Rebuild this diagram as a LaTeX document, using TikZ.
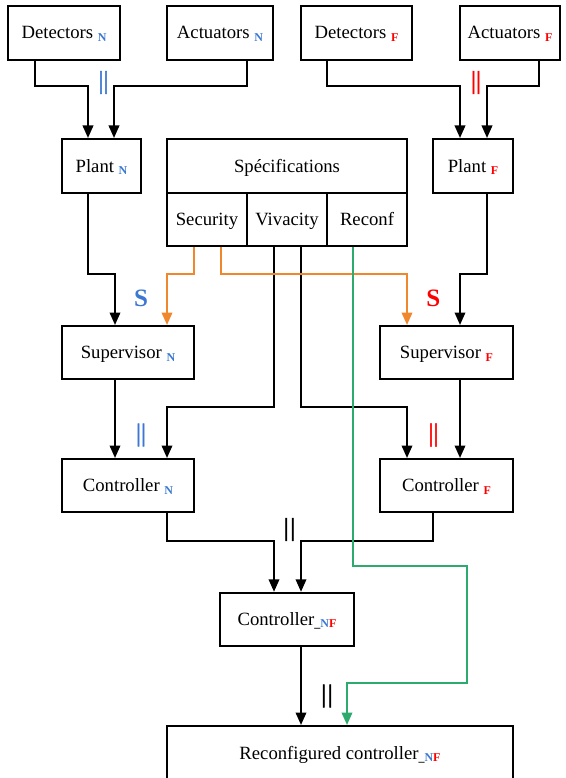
\documentclass[tikz,border=0pt]{standalone}
\usepackage{fontspec}
\setmainfont{Liberation Serif}
\usetikzlibrary{arrows.meta}
\definecolor{cblue}{RGB}{60,120,210}
\definecolor{cred}{RGB}{255,0,0}
\definecolor{corange}{RGB}{240,135,45}
\definecolor{cgreen}{RGB}{45,170,110}
\newcommand{\subN}{\raisebox{-2.5pt}{\fontsize{12}{13}\selectfont\bfseries\color{cblue}N}}
\newcommand{\subF}{\raisebox{-2.5pt}{\fontsize{12}{13}\selectfont\bfseries\color{cred}F}}
\newcommand{\subNF}{\raisebox{-2.5pt}{\fontsize{12}{13}\selectfont\bfseries\_\textcolor{cblue}{N}\textcolor{cred}{F}}}
\begin{document}
\begin{tikzpicture}[x=1pt,y=-1pt,
  box/.style={draw, line width=2pt, minimum height=54pt, text height=12pt, text depth=0pt, inner sep=0pt, font=\fontsize{18.7}{22}\selectfont},
  conn/.style={line width=2pt, -{Triangle[length=12.5pt,width=10.5pt]}},
  bars/.style={inner sep=0pt, font=\fontsize{25}{25}\selectfont\addfontfeature{FakeBold=1.5}},
  slabel/.style={inner sep=0pt, font=\fontsize{25}{25}\selectfont\bfseries}]
\useasboundingbox (0,0) rectangle (565,778);
% top row
\node[box, minimum width=112pt] (detN) at (64,33) {Detectors \subN};
\node[box, minimum width=106pt] (actN) at (220,33) {Actuators \subN};
\node[box, minimum width=111pt] (detF) at (356.5,33) {Detectors \subF};
\node[box, minimum width=100pt] (actF) at (510,33) {Actuators \subF};
% plants and specifications
\node[box, minimum width=79pt] (plantN) at (101.5,166) {Plant \subN};
\node[box, minimum width=80pt] (plantF) at (473,166) {Plant \subF};
\node[box, minimum width=240pt] (spec) at (287,166) {Spécifications};
\node[box, minimum width=80pt, minimum height=53pt] (sec) at (207,219.5) {Security};
\node[box, minimum width=80pt, minimum height=53pt] (viv) at (287,219.5) {Vivacity};
\node[box, minimum width=80pt, minimum height=53pt] (rec) at (367,219.5) {Reconf};
% supervisors
\node[box, minimum width=132pt, minimum height=53pt] (supN) at (128,352.5) {Supervisor \subN};
\node[box, minimum width=133pt, minimum height=53pt] (supF) at (446.5,352.5) {Supervisor \subF};
% controllers
\node[box, minimum width=132pt, minimum height=53pt] (ctlN) at (128,485.5) {Controller \subN};
\node[box, minimum width=133pt, minimum height=53pt] (ctlF) at (446.5,485.5) {Controller \subF};
\node[box, minimum width=134pt, minimum height=53pt] (ctlNF) at (287,619.3) {Controller\subNF};
\node[box, minimum width=346pt, minimum height=54pt] (rcf) at (340,753) {Reconfigured controller\subNF};
% labels
\node[bars, text=cblue] (parN1) at (103.5,82.5) {||};
\node[bars, text=cred] (parF1) at (476,82.5) {||};
\node[slabel, text=cblue] (sN) at (141,298) {S};
\node[slabel, text=cred] (sF) at (433.3,298) {S};
\node[bars, text=cblue] (parN2) at (141,435) {||};
\node[bars, text=cred] (parF2) at (433.5,435) {||};
\node[bars] (par3) at (289.5,529.5) {|\kern1.5pt|};
\node[bars] (par4) at (327,696) {|\kern1.5pt|};
% black connectors
\draw[conn] ([xshift=-29pt]detN.south) -- ++(0,25) -| ([xshift=-13.5pt]plantN.north);
\draw[conn] ([xshift=27pt]actN.south) -- ++(0,25) -| ([xshift=12.5pt]plantN.north);
\draw[conn] ([xshift=-29.5pt]detF.south) -- ++(0,25) -| ([xshift=-13pt]plantF.north);
\draw[conn] ([xshift=29pt]actF.south) -- ++(0,25) -| ([xshift=14pt]plantF.north);
\draw[conn] ([xshift=-13.5pt]plantN.south) -- ++(0,80) -| ([xshift=-13pt]supN.north);
\draw[conn] ([xshift=14pt]plantF.south) -- ++(0,80) -| ([xshift=13.5pt]supF.north);
\draw[conn] ([xshift=-13pt]viv.south) -- ++(0,160) -| ([xshift=39pt]ctlN.north);
\draw[conn] ([xshift=14pt]viv.south) -- ++(0,160) -| ([xshift=-39.5pt]ctlF.north);
\draw[conn] ([xshift=-13pt]supN.south) -- ([xshift=-13pt]ctlN.north);
\draw[conn] ([xshift=13.5pt]supF.south) -- ([xshift=13.5pt]ctlF.north);
\draw[conn] ([xshift=39pt]ctlN.south) -- ++(0,28) -| ([xshift=-13pt]ctlNF.north);
\draw[conn] ([xshift=-13.5pt]ctlF.south) -- ++(0,28) -| ([xshift=14pt]ctlNF.north);
\draw[conn] ([xshift=14pt]ctlNF.south) -- ([xshift=-39pt]rcf.north);
% orange connectors
\draw[conn, corange] ([xshift=-13pt]sec.south) -- ++(0,27) -| ([xshift=39pt]supN.north);
\draw[conn, corange] ([xshift=14pt]sec.south) -- ++(0,27) -| ([xshift=-39.5pt]supF.north);
% green connector
\coordinate (g1) at (466.5,566);
\coordinate (g2) at (466.5,683);
\draw[conn, cgreen] ([xshift=-14pt]rec.south) |- (g1) -- (g2) -| ([xshift=7pt]rcf.north);
\end{tikzpicture}
\end{document}
